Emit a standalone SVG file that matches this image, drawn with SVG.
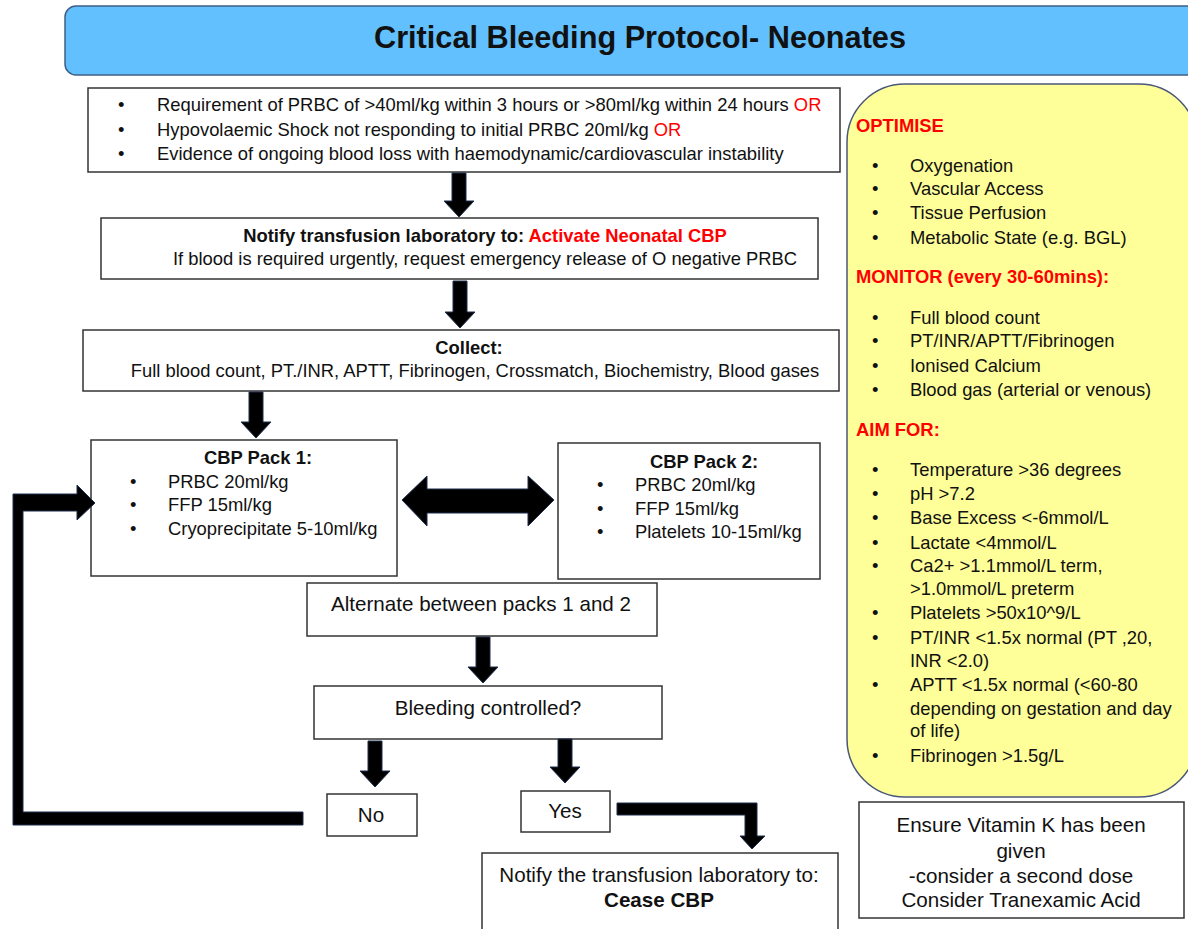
<svg xmlns="http://www.w3.org/2000/svg" width="1188" height="929" viewBox="0 0 1188 929">
<style>
text{font-family:"Liberation Sans",Arial,sans-serif;font-size:18.4px;fill:#111}
.b{font-weight:bold}
.r{fill:#ff0000}
.L{font-size:20.6px}
.box{fill:#fff;stroke:#333;stroke-width:1.5}
.arr{fill:#000;stroke:#1f2f4f;stroke-width:1}
.m{text-anchor:middle}
</style>
<rect width="1188" height="929" fill="#fff"/>
<g id="title">
<rect x="65" y="6" width="1135" height="69" rx="11" fill="#62c0ff" stroke="#3f5f86" stroke-width="1.5"/>
<text x="640" y="48" class="b m" style="font-size:30.7px">Critical Bleeding Protocol- Neonates</text>
</g>
<g id="criteria">
<rect class="box" x="88" y="88" width="752" height="84"/>
<text x="118" y="111">•</text><text x="157" y="111">Requirement of PRBC of &gt;40ml/kg within 3 hours or &gt;80ml/kg within 24 hours <tspan class="r">OR</tspan></text>
<text x="118" y="136">•</text><text x="157" y="136">Hypovolaemic Shock not responding to initial PRBC 20ml/kg <tspan class="r">OR</tspan></text>
<text x="118" y="160">•</text><text x="157" y="160">Evidence of ongoing blood loss with haemodynamic/cardiovascular instability</text>
</g>
<g id="notify">
<rect class="box" x="101" y="218" width="717" height="61"/>
<text x="485" y="242" class="m"><tspan class="b">Notify transfusion laboratory to: </tspan><tspan class="b r">Activate Neonatal CBP</tspan></text>
<text x="485" y="265" class="m">If blood is required urgently, request emergency release of O negative PRBC</text>
</g>
<g id="collect">
<rect class="box" x="83" y="330" width="756" height="61"/>
<text x="469" y="354" class="b m">Collect:</text>
<text x="475" y="377" class="m">Full blood count, PT./INR, APTT, Fibrinogen, Crossmatch, Biochemistry, Blood gases</text>
</g>
<g id="pack1">
<rect class="box" x="91" y="440" width="306" height="136"/>
<text x="258" y="464" class="b m">CBP Pack 1:</text>
<text x="130" y="488">•</text><text x="168" y="488">PRBC 20ml/kg</text>
<text x="130" y="511">•</text><text x="168" y="511">FFP 15ml/kg</text>
<text x="130" y="535">•</text><text x="168" y="535">Cryoprecipitate 5-10ml/kg</text>
</g>
<g id="pack2">
<rect class="box" x="558" y="443" width="262" height="136"/>
<text x="704" y="468" class="b m">CBP Pack 2:</text>
<text x="597" y="491">•</text><text x="635" y="491">PRBC 20ml/kg</text>
<text x="597" y="515">•</text><text x="635" y="515">FFP 15ml/kg</text>
<text x="597" y="538">•</text><text x="635" y="538">Platelets 10-15ml/kg</text>
</g>
<g id="alternate">
<rect class="box" x="307" y="583" width="350" height="53"/>
<text x="481" y="611" class="m L">Alternate between packs 1 and 2</text>
</g>
<g id="bleeding">
<rect class="box" x="314" y="686" width="348" height="53"/>
<text x="488" y="715" class="m L">Bleeding controlled?</text>
</g>
<g id="no">
<rect class="box" x="327" y="794" width="90" height="42"/>
<text x="371" y="822" class="m L">No</text>
</g>
<g id="yes">
<rect class="box" x="521" y="791" width="89" height="41"/>
<text x="565" y="818" class="m L">Yes</text>
</g>
<g id="cease">
<rect class="box" x="482" y="853" width="356" height="90"/>
<text x="659" y="882" class="m L">Notify the transfusion laboratory to:</text>
<text x="659" y="907" class="b m L">Cease CBP</text>
</g>
<g id="targets">
<rect x="847" y="84" width="350" height="713" rx="58" fill="#ffff99" stroke="#4a5878" stroke-width="1.5"/>
<text x="856" y="132" class="b r">OPTIMISE</text>
<text x="872" y="172">•</text><text x="910" y="172">Oxygenation</text>
<text x="872" y="195">•</text><text x="910" y="195">Vascular Access</text>
<text x="872" y="219">•</text><text x="910" y="219">Tissue Perfusion</text>
<text x="872" y="244">•</text><text x="910" y="244">Metabolic State (e.g. BGL)</text>
<text x="856" y="283" class="b r">MONITOR (every 30-60mins):</text>
<text x="872" y="324">•</text><text x="910" y="324">Full blood count</text>
<text x="872" y="347">•</text><text x="910" y="347">PT/INR/APTT/Fibrinogen</text>
<text x="872" y="372">•</text><text x="910" y="372">Ionised Calcium</text>
<text x="872" y="396">•</text><text x="910" y="396">Blood gas (arterial or venous)</text>
<text x="856" y="436" class="b r">AIM FOR:</text>
<text x="872" y="476">•</text><text x="910" y="476">Temperature &gt;36 degrees</text>
<text x="872" y="500">•</text><text x="910" y="500">pH &gt;7.2</text>
<text x="872" y="524">•</text><text x="910" y="524">Base Excess &lt;-6mmol/L</text>
<text x="872" y="549">•</text><text x="910" y="549">Lactate &lt;4mmol/L</text>
<text x="872" y="572">•</text><text x="910" y="572">Ca2+ &gt;1.1mmol/L term,</text>
<text x="910" y="595">&gt;1.0mmol/L preterm</text>
<text x="872" y="619">•</text><text x="910" y="619">Platelets &gt;50x10^9/L</text>
<text x="872" y="644">•</text><text x="910" y="644">PT/INR &lt;1.5x normal (PT ,20,</text>
<text x="910" y="667">INR &lt;2.0)</text>
<text x="872" y="691">•</text><text x="910" y="691">APTT &lt;1.5x normal (&lt;60-80</text>
<text x="910" y="715">depending on gestation and day</text>
<text x="910" y="737">of life)</text>
<text x="872" y="762">•</text><text x="910" y="762">Fibrinogen &gt;1.5g/L</text>
</g>
<g id="vitk">
<rect class="box" x="859" y="802" width="325" height="116"/>
<text x="1021" y="832" class="m L">Ensure Vitamin K has been</text>
<text x="1021" y="858" class="m L">given</text>
<text x="1021" y="883" class="m L">-consider a second dose</text>
<text x="1021" y="907" class="m L">Consider Tranexamic Acid</text>
</g>
<g id="connectors">
<polygon class="arr" points="452,173 466,173 466,201 474,201 459,217 444,201 452,201"/>
<polygon class="arr" points="453,281 467,281 467,312 475,312 460,328 445,312 453,312"/>
<polygon class="arr" points="249,392 263,392 263,422 271,422 256,438 241,422 249,422"/>
<polygon class="arr" points="476,637 490,637 490,667 498,667 483,683 468,667 476,667"/>
<polygon class="arr" points="368,741 382,741 382,771 390,771 375,787 360,771 368,771"/>
<polygon class="arr" points="558,739 572,739 572,767 580,767 565,783 550,767 558,767"/>
<polygon class="arr" points="402,500 427,476 427,489 528,489 528,476 554,500 528,526 528,513 427,513 427,526"/>
<polygon class="arr" points="617,803 757,803 757,836 765,836 752,849 740,836 745,836 745,815 617,815"/>
<polygon class="arr" points="303,812 303,825 13,825 13,502 13,494 77,494 77,485 95,503 77,520 77,511 23,511 23,812"/>
</g>
</svg>
